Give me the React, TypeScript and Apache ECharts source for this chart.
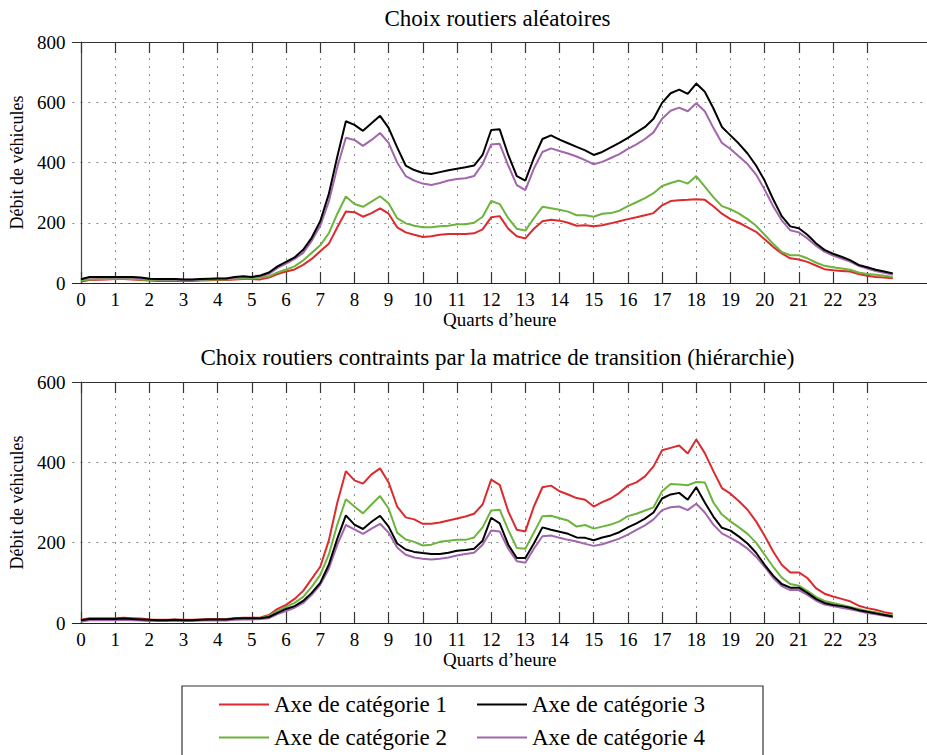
import React, { useEffect, useRef } from "react";
import * as echarts from "echarts";

// Hour tick labels (x axis)
const HOURS = [0, 1, 2, 3, 4, 5, 6, 7, 8, 9, 10, 11, 12, 13, 14, 15, 16, 17, 18, 19, 20, 21, 22, 23];
// Quarter-hour sample positions (in hours): 0, 0.25, ... 23.75
const QUARTERS = HOURS.flatMap((h) => [h, h + 0.25, h + 0.5, h + 0.75]);

const SERIES_NAMES = ["Axe de catégorie 1", "Axe de catégorie 2", "Axe de catégorie 3", "Axe de catégorie 4"];
const COLORS = ["#dc2a2e", "#6cb43c", "#000000", "#a365ae"];

const TITLE_TOP = "Choix routiers aléatoires";
const TITLE_BOTTOM = "Choix routiers contraints par la matrice de transition (hiérarchie)";
const X_NAME = "Quarts d’heure";
const Y_NAME = "Débit de véhicules";

// ---- Top plot: Choix routiers aléatoires ----
const RED_TOP = [
  5, 10, 11, 12, 13, 13, 12, 10, 8, 7, 7, 7, 7, 7, 8, 9, 10, 10, 12, 13,
  13, 12, 18, 30, 38, 45, 60, 80, 105, 130, 185, 237, 235, 220, 232, 248,
  230, 185, 168, 160, 153, 155, 160, 163, 163, 163, 165, 178, 218, 222, 180, 155,
  148, 180, 205, 210, 207, 200, 190, 192, 188, 192, 198, 205, 212, 218, 225, 232,
  258, 272, 275, 276, 278, 276, 255, 230, 212, 200, 185, 170, 145, 120, 98, 82,
  78, 70, 58, 46, 42, 40, 38, 30, 24, 20, 18, 16,
];
const GREEN_TOP = [
  8, 12, 13, 13, 14, 14, 13, 12, 10, 9, 9, 9, 9, 9, 10, 11, 12, 12, 14, 15,
  15, 18, 22, 35, 45, 55, 75, 100, 125, 165, 230, 287, 262, 253, 270, 288,
  265, 215, 198, 190, 185, 185, 188, 190, 195, 195, 200, 220, 272, 262, 215, 180,
  174, 215, 253, 248, 243, 237, 225, 225, 220, 230, 232, 240, 255, 268, 282, 298,
  322, 332, 340, 330, 355, 320, 285, 255, 245, 230, 212, 190, 160, 130, 103, 92,
  92, 82, 68, 57, 52, 48, 44, 35, 30, 27, 24, 20,
];
const BLACK_TOP = [
  12, 20, 20, 20, 20, 20, 20, 18, 14, 13, 13, 13, 12, 12, 13, 14, 15, 15, 20, 22,
  20, 25, 35, 55, 70, 85, 110, 150, 205, 295, 420, 537, 525, 505, 530, 555,
  515, 450, 390, 375, 365, 362, 368, 374, 379, 384, 390, 425, 508, 510, 425, 355,
  340, 415, 478, 490, 476, 464, 452, 440, 425, 435, 450, 465, 482, 500, 518, 545,
  598, 630, 642, 628, 662, 635, 580, 518, 490, 462, 430, 390, 340, 278, 222, 188,
  182, 160, 132, 110, 97, 87, 76, 60, 52, 44, 38, 32,
];
const PURPLE_TOP = [
  14, 18, 18, 18, 18, 18, 18, 16, 13, 12, 12, 12, 11, 11, 12, 13, 14, 14, 18, 20,
  19, 22, 30, 50, 64, 80, 100, 140, 190, 270, 385, 482, 475, 455, 475, 498,
  465, 400, 355, 340, 330, 325, 332, 340, 345, 348, 355, 395, 460, 462, 390, 325,
  308, 380, 435, 447, 438, 430, 420, 408, 394, 402, 415, 428, 445, 460, 478, 500,
  545, 572, 582, 570, 597, 570, 515, 465, 445, 420, 395, 360, 310, 255, 208, 175,
  168, 148, 124, 104, 91, 81, 71, 57, 48, 40, 34, 28,
];

// ---- Bottom plot: contraints par la matrice de transition ----
const RED_BOT = [
  8, 12, 12, 12, 12, 13, 12, 11, 9, 8, 8, 9, 8, 8, 9, 10, 10, 10, 12, 13,
  13, 14, 20, 35, 45, 60, 80, 110, 140, 205, 300, 378, 355, 347, 370, 385,
  350, 290, 263, 258, 247, 247, 250, 255, 260, 265, 272, 295, 357, 344, 278, 232,
  228, 290, 338, 342, 328, 320, 311, 307, 290, 301, 310, 324, 342, 350, 365, 390,
  430, 436, 442, 422, 457, 423, 378, 336, 322, 303, 282, 253, 217, 178, 145, 126,
  126, 112, 87, 73, 66, 60, 54, 43, 37, 33, 27, 23,
];
const GREEN_BOT = [
  6, 9, 9, 9, 9, 10, 9, 8, 7, 6, 6, 7, 6, 6, 7, 8, 8, 8, 10, 11,
  11, 12, 18, 30, 40, 50, 65, 90, 120, 170, 245, 308, 290, 273, 295, 316,
  285, 225, 208, 202, 193, 195, 202, 205, 207, 207, 213, 238, 280, 282, 232, 187,
  185, 225, 266, 267, 261, 255, 240, 244, 235, 240, 245, 253, 266, 272, 280, 288,
  328, 346, 345, 343, 351, 350, 300, 270, 253, 238, 222, 200, 170, 140, 113, 97,
  93, 80, 65, 55, 50, 45, 40, 35, 30, 27, 22, 18,
];
const BLACK_BOT = [
  7, 10, 10, 10, 10, 11, 10, 9, 8, 7, 7, 8, 7, 7, 8, 9, 9, 9, 11, 12,
  12, 12, 15, 25, 35, 42, 55, 75, 100, 145, 210, 268, 245, 234, 252, 267,
  240, 198, 183, 177, 174, 172, 172, 175, 180, 182, 185, 205, 262, 248, 195, 162,
  162, 198, 238, 232, 227, 222, 213, 212, 206, 213, 218, 226, 238, 248, 260, 275,
  310, 320, 324, 307, 338, 300, 265, 237, 230, 215, 198, 175, 145, 118, 97, 88,
  88, 75, 60, 50, 45, 42, 38, 32, 28, 24, 20, 16,
];
const PURPLE_BOT = [
  4, 7, 7, 7, 7, 8, 7, 6, 5, 5, 5, 5, 5, 5, 6, 6, 6, 6, 8, 9,
  9, 10, 12, 22, 30, 38, 50, 70, 95, 135, 195, 244, 233, 222, 235, 247,
  225, 188, 170, 163, 160, 158, 160, 163, 168, 172, 175, 195, 230, 228, 185, 154,
  150, 185, 216, 218, 212, 207, 203, 197, 192, 196, 203, 210, 220, 232, 243, 258,
  281, 288, 290, 281, 297, 275, 245, 223, 212, 200, 185, 165, 140, 112, 92, 82,
  82, 70, 56, 46, 42, 38, 34, 30, 25, 22, 18, 14,
];

const TOP_Y_MAX = 800;
const BOT_Y_MAX = 600;
const Y_STEP = 200;

const FONT = "Liberation Serif, Times New Roman, Times, serif";

export default function App() {
  const ref = useRef<HTMLDivElement>(null);

  useEffect(() => {
    document.body.style.margin = "0";
    if (!ref.current) return;
    const chart = echarts.init(ref.current, null, { renderer: "svg" });

    const pairs = (vals: number[]) => vals.map((v, i) => [QUARTERS[i], v]);
    const gridLine = { show: true, lineStyle: { type: [2, 6] as any, color: "#8a8a8a", width: 1 } };
    const labelStyle = { fontFamily: FONT, fontSize: 19, color: "#000" };

    const bottomX = (gridIndex: number) => ({
      type: "value",
      gridIndex,
      position: "bottom",
      min: -0.25,
      max: 24.75,
      axisLine: { show: true, onZero: false, lineStyle: { color: "#222", width: 1.2 } },
      axisTick: { show: true, inside: true, length: 11, customValues: HOURS, lineStyle: { color: "#333", width: 1.2 } },
      axisLabel: {
        customValues: HOURS,
        formatter: (v: number) => String(v),
        ...labelStyle,
        margin: 7,
      },
      splitLine: gridLine,
      name: X_NAME,
      nameLocation: "middle",
      nameGap: 24,
      nameTextStyle: { fontFamily: FONT, fontSize: 19, color: "#000" },
    });
    const topX = (gridIndex: number) => ({
      type: "value",
      gridIndex,
      position: "top",
      min: -0.25,
      max: 24.75,
      axisLine: { show: true, onZero: false, lineStyle: { color: "#333", width: 1.2 } },
      axisTick: { show: true, inside: true, length: 11, customValues: HOURS, lineStyle: { color: "#333", width: 1.2 } },
      axisLabel: { show: false },
      splitLine: { show: false },
    });
    const yAx = (gridIndex: number, max: number) => ({
      type: "value",
      gridIndex,
      min: 0,
      max,
      interval: Y_STEP,
      axisLine: { show: true, lineStyle: { color: "#444", width: 1.2 } },
      axisTick: { show: false },
      axisLabel: { ...labelStyle, margin: 7 },
      splitLine: gridLine,
      name: Y_NAME,
      nameLocation: "middle",
      nameGap: 41,
      nameTextStyle: { fontFamily: FONT, fontSize: 18, color: "#000" },
    });

    const topData = [RED_TOP, GREEN_TOP, BLACK_TOP, PURPLE_TOP];
    const botData = [RED_BOT, GREEN_BOT, BLACK_BOT, PURPLE_BOT];
    const mk = (vals: number[], k: number, xi: number, yi: number) => ({
      type: "line",
      name: SERIES_NAMES[k],
      xAxisIndex: xi,
      yAxisIndex: yi,
      data: pairs(vals),
      symbol: "none",
      color: COLORS[k],
      lineStyle: { width: 2, color: COLORS[k] },
      z: k === 2 ? 4 : 3,
    });
    const series = [
      ...topData.map((v, k) => mk(v, k, 0, 0)),
      ...botData.map((v, k) => mk(v, k, 2, 1)),
    ];

    const legendText = { fontFamily: FONT, fontSize: 23, color: "#000" };
    const legendBase = {
      orient: "vertical",
      top: 693,
      padding: 0,
      icon: "rect",
      itemWidth: 50,
      itemHeight: 2,
      itemGap: 10,
      textStyle: legendText,
      selectedMode: false,
    };

    chart.setOption({
      animation: false,
      backgroundColor: "#fff",
      textStyle: { fontFamily: FONT },
      grid: [
        { left: 70, top: 42, width: 868.75, height: 241, show: false },
        { left: 70, top: 382, width: 868.75, height: 241, show: false },
      ],
      xAxis: [bottomX(0), topX(0), bottomX(1), topX(1)],
      yAxis: [yAx(0, TOP_Y_MAX), yAx(1, BOT_Y_MAX)],
      legend: [
        { ...legendBase, left: 219, data: [SERIES_NAMES[0], SERIES_NAMES[1]] },
        { ...legendBase, left: 477, data: [SERIES_NAMES[2], SERIES_NAMES[3]] },
      ],
      graphic: [
        {
          type: "text",
          x: 497.5,
          y: 18,
          style: { text: TITLE_TOP, fontFamily: FONT, fontSize: 23, fill: "#000", align: "center", verticalAlign: "middle" },
        },
        {
          type: "text",
          x: 497.5,
          y: 357,
          style: { text: TITLE_BOTTOM, fontFamily: FONT, fontSize: 23, fill: "#000", align: "center", verticalAlign: "middle" },
        },
        {
          type: "rect",
          shape: { x: 182, y: 686, width: 581, height: 90 },
          style: { fill: "transparent", stroke: "#333", lineWidth: 1.2 },
        },
      ],
      series,
    } as any);

    return () => chart.dispose();
  }, []);

  return <div ref={ref} style={{ width: 927, height: 755 }} />;
}
